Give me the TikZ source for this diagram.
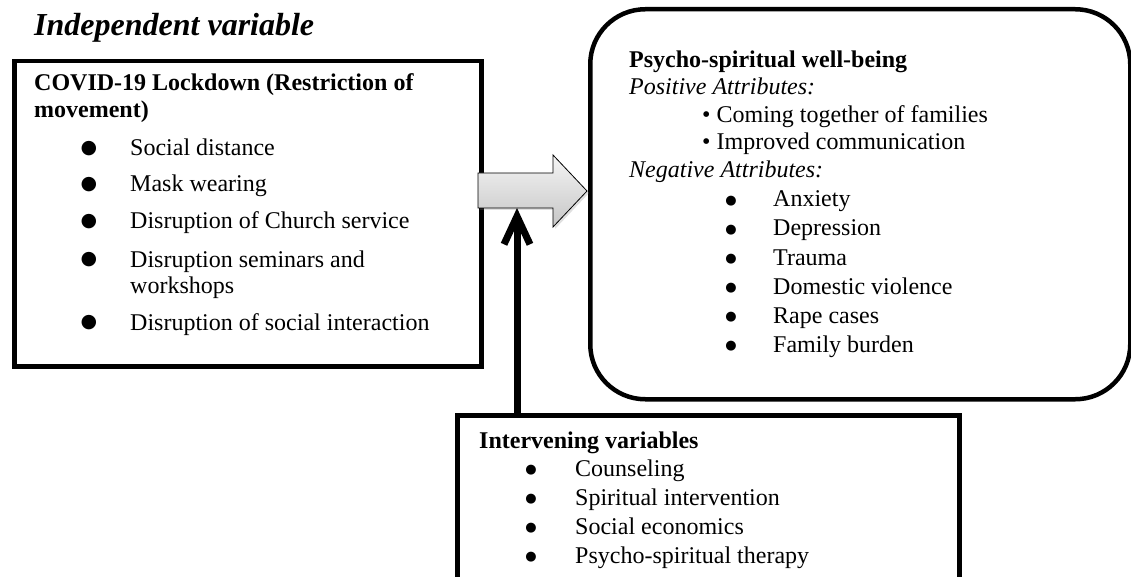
\documentclass[tikz,border=0pt]{standalone}
\usepackage{fontspec}
\setmainfont{Liberation Serif}
\newfontfamily\dotfont{DejaVu Sans}
\usetikzlibrary{arrows.meta,shadows}

\tikzset{
  txt/.style={anchor=base west,inner sep=0pt,font=\fontsize{24}{28}\selectfont},
  head/.style={txt,font=\fontsize{24}{28}\selectfont\bfseries},
  attr/.style={txt,font=\fontsize{24}{28}\selectfont\itshape},
  dot/.style={inner sep=0pt,font=\dotfont\fontsize{13}{13}\selectfont},
  bigdot/.style={inner sep=0pt,font=\dotfont\fontsize{19}{19}\selectfont},
  frame/.style={draw,line width=4.5pt,inner sep=0pt,anchor=north west},
  uparrow/.style={line width=7pt,-{Straight Barb[length=28pt,width=26pt]}},
}

\begin{document}
\begin{tikzpicture}[x=1pt,y=-1pt]
  \clip (0,0) rectangle (1131,577);

  \node[anchor=base west,inner sep=0pt,font=\fontsize{32}{36}\selectfont\bfseries\itshape] (indep) at (34,36) {Independent variable};

  % lockdown box
  \node[frame,minimum width=467pt,minimum height=305pt] (lbox) at (12,59) {};
  \node[head] (covid) at (34,91) {COVID-19 Lockdown (Restriction of};
  \node[head] (covid2) at (34,118) {movement)};
  \node[bigdot] (ld1) at (89,149) {●};
  \node[txt] (l1) at (130,156) {Social distance};
  \node[bigdot] (ld2) at (89,185) {●};
  \node[txt] (l2) at (130,192) {Mask wearing};
  \node[bigdot] (ld3) at (89,222) {●};
  \node[txt] (l3) at (130,229) {Disruption of Church service};
  \node[bigdot] (ld4) at (89,260) {●};
  \node[txt] (l4) at (130,267) {Disruption seminars and};
  \node[txt] (l4b) at (130,293) {workshops};
  \node[bigdot] (ld5) at (89,323) {●};
  \node[txt] (l5) at (130,330) {Disruption of social interaction};

  % well-being box
  \node[frame,rounded corners=55pt,minimum width=540pt,minimum height=390pt] (wbox) at (588,7) {};
  \node[head] (psy) at (629,68) {Psycho-spiritual well-being};
  \node[attr] (pos) at (629,95) {Positive Attributes:};
  \node[txt] (p1) at (702,123) {\textbullet\ Coming together of families};
  \node[txt] (p2) at (702,150) {\textbullet\ Improved communication};
  \node[attr] (neg) at (629,178) {Negative Attributes:};
  \node[dot] (nd1) at (731,201) {●};
  \node[txt] (n1) at (773,207) {Anxiety};
  \node[dot] (nd2) at (731,230) {●};
  \node[txt] (n2) at (773,236) {Depression};
  \node[dot] (nd3) at (731,259) {●};
  \node[txt] (n3) at (773,265) {Trauma};
  \node[dot] (nd4) at (731,288) {●};
  \node[txt] (n4) at (773,294) {Domestic violence};
  \node[dot] (nd5) at (731,317) {●};
  \node[txt] (n5) at (773,323) {Rape cases};
  \node[dot] (nd6) at (731,346) {●};
  \node[txt] (n6) at (773,352) {Family burden};

  % intervening box
  \node[frame,minimum width=502pt,minimum height=200pt] (ibox) at (455,413) {};
  \node[head] (inter) at (479,448) {Intervening variables};
  \node[dot] (id1) at (531,470) {●};
  \node[txt] (i1) at (575,476) {Counseling};
  \node[dot] (id2) at (531,499) {●};
  \node[txt] (i2) at (575,505) {Spiritual intervention};
  \node[dot] (id3) at (531,528) {●};
  \node[txt] (i3) at (575,534) {Social economics};
  \node[dot] (id4) at (531,557) {●};
  \node[txt] (i4) at (575,563) {Psycho-spiritual therapy};

  % arrows
  \draw[line width=0.8pt,top color=gray!8,bottom color=gray!45,
        drop shadow={opacity=0.25,shadow xshift=2pt,shadow yshift=-2pt}]
    (478,173) -- (553,173) -- (553,155) -- (587,191) -- (553,227) -- (553,208) -- (478,208) -- cycle;
  \coordinate (tip) at (517,208);
  \draw[uparrow] (ibox.north -| tip) -- (tip);

\end{tikzpicture}
\end{document}
